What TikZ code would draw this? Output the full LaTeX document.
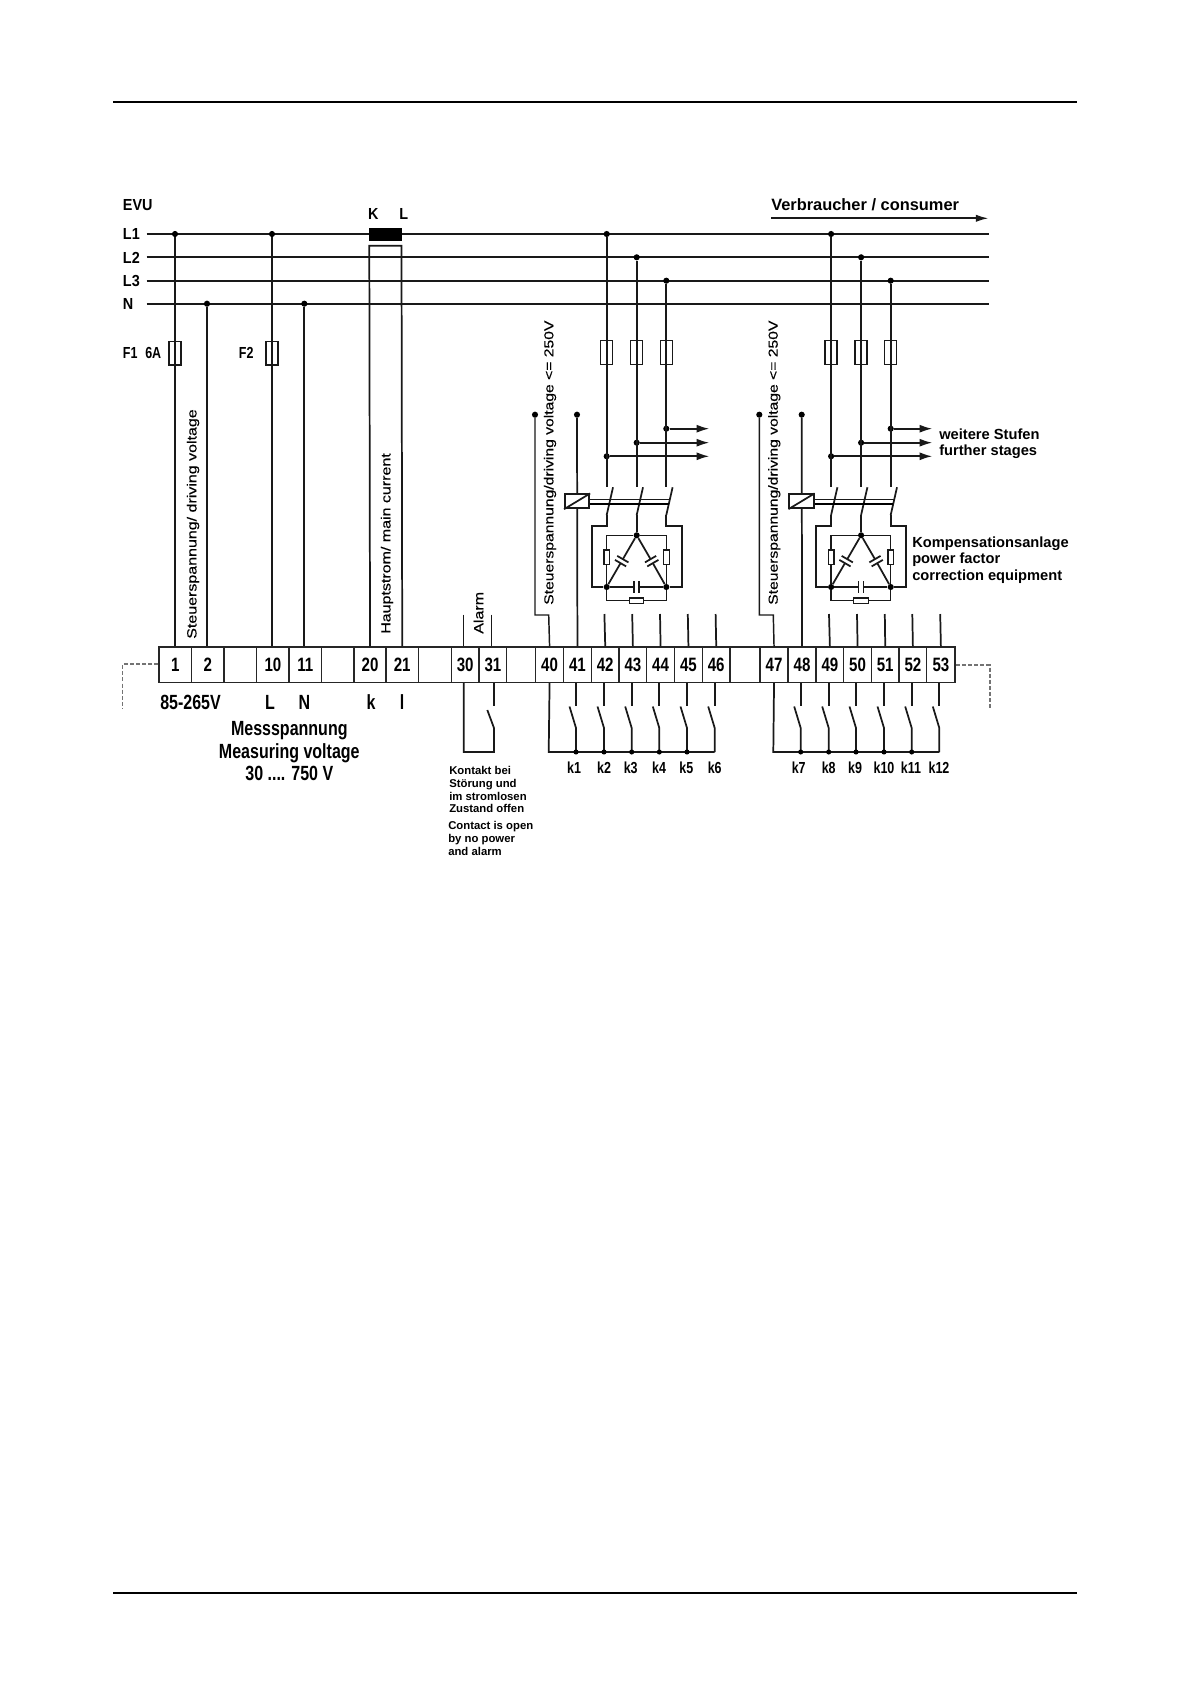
\documentclass[tikz,border=0pt]{standalone}
\usepackage{fontspec}
\setmainfont{Liberation Sans}
\newfontfamily\cfont[FakeStretch=0.78]{Liberation Sans}
\newfontfamily\mfont[FakeStretch=0.9]{Liberation Sans}
\newfontfamily\rfont[FakeStretch=1.2,FakeBold=0.3]{Liberation Sans}
\usetikzlibrary{arrows.meta}
\tikzset{
  wire/.style={line width=1.3pt,black!90},
  thin wire/.style={line width=1.1pt,black!90},
  fusebox/.style={draw=black!90,line width=1pt,fill=none,minimum width=12pt*0.75,minimum height=23.5pt*0.75,inner sep=0pt},
  term/.style={draw=black!85,line width=1.1pt,minimum height=26.4pt,inner sep=0pt,font=\cfont\bfseries\fontsize{14.5}{16}\selectfont},
  jdot/.style={circle,fill=black,inner sep=0pt,minimum size=4.6pt},
  lab/.style={inner sep=0pt,text height=8.6pt,text depth=0pt,font=\mfont\bfseries\fontsize{12}{14}\selectfont},
  flab/.style={inner sep=0pt,text height=8.6pt,text depth=0pt,anchor=west,font=\cfont\bfseries\fontsize{12}{14}\selectfont},
  klab/.style={inner sep=0pt,text height=8.6pt,text depth=0pt,font=\cfont\bfseries\fontsize{12}{13}\selectfont},
  rot/.style={inner sep=0pt,rotate=90,anchor=west,font=\rfont\fontsize{10}{13}\selectfont},
  rotb/.style={inner sep=0pt,rotate=90,anchor=west,font=\rfont\fontsize{9.8}{13}\selectfont},
  small/.style={inner sep=0pt,anchor=west,text height=6pt,text depth=0pt,font=\bfseries\fontsize{8.5}{9}\selectfont},
  side/.style={inner sep=0pt,anchor=west,text height=7.9pt,text depth=0pt,font=\bfseries\fontsize{11}{12}\selectfont},
  big/.style={inner sep=0pt,text height=11pt,text depth=0pt,font=\cfont\bfseries\fontsize{15.4}{17}\selectfont},
  dashline/.style={draw=black!55,line width=0.8pt,dash pattern=on 3pt off 1.6pt},
  go/.style={-{Latex[length=9.5pt,width=6pt]},wire}
}
\newcommand{\termcell}[3]{\node[term,minimum width=#3*0.75pt,anchor=west] (t#1) at (#2,664.7) {#1};}
\newcommand{\emptycell}[3]{\node[term,minimum width=#3*0.75pt,anchor=west] (#1) at (#2,664.7) {};}
\newcommand{\contact}[3]{%
  \coordinate (#2s) at (#3,705.7);
  \coordinate (#2k) at (#3,728);
  \coordinate (#2b) at (#3-6.5,706.5);
  \draw[wire] (t#1.south -| #2s) -- (#2s);
  \draw[wire] (#2b) -- (#2k) -- (#3,752);
}
\newcommand{\stage}[3]{%
\begin{scope}[shift={(#2,0)}]
  \node[jdot] (#1a) at (606.7,234) {};
  \node[jdot] (#1b) at (636.7,257.3) {};
  \node[jdot] (#1c) at (666.3,280.7) {};
  \node[fusebox] (#1fa) at (606.7,352.5) {};
  \node[fusebox] (#1fb) at (636.7,352.5) {};
  \node[fusebox] (#1fc) at (666.3,352.5) {};
  \node[jdot] (#1da) at (606.7,456.3) {};
  \node[jdot] (#1db) at (636.7,442.7) {};
  \node[jdot] (#1dc) at (666.3,428.7) {};
  \coordinate (#1ea) at (709.3+#3,456.3);
  \coordinate (#1eb) at (709.3+#3,442.7);
  \coordinate (#1ec) at (709.3+#3,428.7);
  \draw[go] (#1da) -- (#1ea);
  \draw[go] (#1db) -- (#1eb);
  \draw[go] (#1dc) -- (#1ec);
  \coordinate (#1sa) at (606.7,486.7);
  \coordinate (#1sb) at (636.7,486.7);
  \coordinate (#1sc) at (666.3,486.7);
  \draw[wire] (#1a) -- (#1sa);
  \draw[wire] (#1b) -- (#1sb);
  \draw[wire] (#1c) -- (#1sc);
  \coordinate (#1ba) at (606.7,515);
  \coordinate (#1bb) at (636.7,515);
  \coordinate (#1bc) at (666.3,515);
  \draw[wire] (613,487.3) -- (#1ba);
  \draw[wire] (643,487.3) -- (#1bb);
  \draw[wire] (672.6,487.3) -- (#1bc);
  \node[draw=black!90,line width=1.3pt,fill=white,minimum width=24.3*0.75pt,minimum height=14*0.75pt,inner sep=0pt] (#1coil) at (577.1,501.3) {};
  \draw[wire] (#1coil.south west) -- (#1coil.north east);
  \draw[line width=1pt,black!90] (#1coil.east |- 0,499.3) -- (669.7,499.3);
  \draw[line width=1.6pt,black] (#1coil.east |- 0,503.8) -- (668.7,503.8);
  \coordinate (#1ot) at (591.7,526);
  \coordinate (#1ob) at (681.7,587);
  \node[jdot] (#1top) at (636.7,535.3) {};
  \node[jdot] (#1l) at (606.7,587) {};
  \node[jdot] (#1r) at (666.3,587) {};
  \draw[wire] (#1ba) -- (606.7,526) -- (#1ot) -- (591.7,587) -- (#1l);
  \draw[wire] (#1bc) -- (666.3,526) -- (681.7,526) -- (#1ob) -- (#1r);
  \draw[wire] (#1bb) -- (#1top);
  \draw[thin wire] (#1top) -- (606.7,535.3) -- (#1l);
  \draw[thin wire] (#1top) -- (666.3,535.3) -- (#1r);
  \draw[thin wire] (#1l) -- (606.7,600.7) -- (666.3,600.7) -- (#1r);
  \node[draw=black!90,fill=white,line width=0.9pt,minimum width=4.2pt,minimum height=11pt,inner sep=0pt] (#1ra) at (606.7,557.3) {};
  \node[draw=black!90,fill=white,line width=0.9pt,minimum width=4.2pt,minimum height=11pt,inner sep=0pt] (#1rc) at (666.3,557.3) {};
  \node[draw=black!90,fill=white,line width=0.9pt,minimum width=11pt,minimum height=4.2pt,inner sep=0pt] (#1rb) at (636.5,600.7) {};
  \draw[wire] (#1l) -- (634.2,587);
  \draw[wire] (#1r) -- (639.2,587);
  \draw[wire] (634.2,581.3) -- (634.2,593);
  \draw[wire] (639.2,581.3) -- (639.2,593);
  \draw[wire] (#1top) -- (622.85,559.15);
  \draw[wire] (#1l) -- (620.55,563.15);
  \draw[wire] ({622.85-5.6},{559.15-3.25}) -- ({622.85+5.6},{559.15+3.25});
  \draw[wire] ({620.55-5.6},{563.15-3.25}) -- ({620.55+5.6},{563.15+3.25});
  \draw[wire] (#1top) -- (650.55,559.15);
  \draw[wire] (#1r) -- (652.85,563.15);
  \draw[wire] ({650.55-5.6},{559.15+3.25}) -- ({650.55+5.6},{559.15-3.25});
  \draw[wire] ({652.85-5.6},{563.15+3.25}) -- ({652.85+5.6},{563.15-3.25});
\end{scope}}
\begin{document}
\begin{tikzpicture}[x=0.75pt,y=-0.75pt]
\useasboundingbox (0,0) rectangle (1190,1684);
\fill[white] (0,0) rectangle (1190,1684);
\coordinate (ra) at (113,102); \coordinate (rb) at (1077,102);
\coordinate (rc) at (113,1593); \coordinate (rd) at (1077,1593);
\draw[line width=1.3pt] (ra) -- (rb);
\draw[line width=1.3pt] (rc) -- (rd);
\node[lab,anchor=west] (evu) at (122.7,205) {EVU};
\node[lab,anchor=west] (nL1) at (122.7,234) {L1};
\node[lab,anchor=west] (nL2) at (122.7,257.3) {L2};
\node[lab,anchor=west] (nL3) at (122.7,280.7) {L3};
\node[lab,anchor=west] (nN) at (122.7,303.7) {N};
\coordinate (a1) at (146.7,234); \coordinate (b1) at (989,234);
\coordinate (a2) at (146.7,257.3); \coordinate (b2) at (989,257.3);
\coordinate (a3) at (146.7,280.7); \coordinate (b3) at (989,280.7);
\coordinate (a4) at (146.7,303.7); \coordinate (b4) at (989,303.7);
\draw[wire] (a1) -- (b1);
\draw[wire] (a2) -- (b2);
\draw[wire] (a3) -- (b3);
\draw[wire] (a4) -- (b4);
\coordinate (ca) at (771,218.3); \coordinate (cb) at (988.5,218.3);
\draw[-{Latex[length=9.5pt,width=5.5pt]},wire] (ca) -- (cb);
\node[inner sep=0pt,anchor=west,text height=8.8pt,text depth=0pt,font=\bfseries\fontsize{12.3}{14}\selectfont] (verb) at (771,205) {Verbraucher / consumer};
\termcell{1}{158.3}{32.7}
\termcell{2}{191}{32.3}
\emptycell{e1}{223.3}{32.7}
\termcell{10}{256}{32.3}
\termcell{11}{288.3}{32.4}
\emptycell{e2}{320.7}{32.6}
\termcell{20}{353.3}{32}
\termcell{21}{385.3}{32.4}
\emptycell{e3}{417.7}{33}
\termcell{30}{450.7}{27.6}
\termcell{31}{478.3}{27.7}
\emptycell{e4}{506}{29}
\termcell{40}{535}{27.7}
\termcell{41}{562.7}{28}
\termcell{42}{590.7}{27.6}
\termcell{43}{618.3}{27.7}
\termcell{44}{646}{27.7}
\termcell{45}{673.7}{28}
\termcell{46}{701.7}{27.6}
\emptycell{e5}{729.3}{30}
\termcell{47}{759.3}{28}
\termcell{48}{787.3}{28}
\termcell{49}{815.3}{27.7}
\termcell{50}{843}{27.7}
\termcell{51}{870.7}{27.6}
\termcell{52}{898.3}{27.7}
\termcell{53}{926}{28.3}
\node[jdot] (j1) at (175,234) {};
\node[jdot] (j2) at (272,234) {};
\node[jdot] (j3) at (207,303.7) {};
\node[jdot] (j4) at (304.3,303.7) {};
\draw[wire] (j1) -- (j1 |- t1.north);
\draw[wire] (j2) -- (j2 |- t10.north);
\draw[wire] (j3) -- (j3 |- t2.north);
\draw[wire] (j4) -- (j4 |- t11.north);
\node[fusebox] (f1) at (175,353.3) {};
\node[fusebox] (f2) at (272,353.3) {};
\node[flab] (lf1) at (122.7,353) {F1};
\node[flab] (l6a) at (145,353) {6A};
\node[flab] (lf2) at (238.7,353) {F2};
\node[fill=black,minimum width=24.7pt,minimum height=9.5pt,inner sep=0pt] (ct) at (385.3,234.3) {};
\node[lab] (lK) at (373.3,214) {K};
\node[lab] (lLL) at (403.7,214) {L};
\coordinate (cta) at (369.3,245.7);
\coordinate (ctb) at (401.5,245.7);
\draw[wire] (t20.north) -- (cta) -- (ctb) -- (t21.north);
\node[rot] (r1) at (193,639) {Steuerspannung/ driving voltage};
\node[rot] (r2) at (387,634) {Hauptstrom/ main current};
\node[rotb] (r3) at (550,605) {Steuerspannung/driving voltage <= 250V};
\node[rotb] (r4) at (774.3,605) {Steuerspannung/driving voltage <= 250V};
\node[rot] (r5) at (478.5,634) {Alarm};
\coordinate (al1) at (463.7,614.7); \coordinate (al2) at (491.3,614.7);
\draw[thin wire] (al1) -- (t30.north -| al1);
\draw[thin wire] (al2) -- (t31.north -| al2);
\coordinate (al3) at (463.7,752); \coordinate (al4) at (494,752);
\coordinate (al5) at (494,728); \coordinate (al6) at (487.3,710);
\coordinate (al7) at (494,705.7);
\draw[wire] (t30.south -| al3) -- (al3) -- (al4) -- (al5) -- (al6);
\draw[wire] (t31.south -| al7) -- (al7);
\node[jdot] (d40) at (535,414.7) {};
\node[jdot] (d41) at (577,414.7) {};
\node[jdot] (d47) at (759.3,414.7) {};
\node[jdot] (d48) at (801.7,414.7) {};
\draw[thin wire] (d40) -- (535,615) -- (548.7,615) -- (t40.north);
\draw[thin wire] (d47) -- (759.3,615) -- (773.3,615) -- (t47.north);
\draw[wire] (d41) -- (t41.north);
\draw[wire] (d48) -- (t48.north);
\foreach \n/\x in {42/604.4,43/632.2,44/660,45/687.8,46/715.6,49/829,50/857,51/884.8,52/912.3,53/940.2}{
  \coordinate (s\n) at (\x,614);
  \draw[wire] (s\n) -- (t\n.north);
}
\stage{p}{0}{0}
\stage{q}{224.4}{-1.4}
\contact{41}{ca}{576}
\contact{42}{cb}{604}
\contact{43}{cc}{631.7}
\contact{44}{cd}{659.3}
\contact{45}{ce}{687}
\contact{46}{cf}{714.7}
\contact{48}{cg}{800.7}
\contact{49}{ch}{828.7}
\contact{50}{ci}{856}
\contact{51}{cj}{884}
\contact{52}{ck}{911.7}
\contact{53}{cl}{939.3}
\coordinate (bus1) at (548.7,752); \coordinate (bus1e) at (714.7,752);
\coordinate (bus2) at (773.3,752); \coordinate (bus2e) at (939.3,752);
\draw[wire] (t40.south) -- (bus1) -- (bus1e);
\draw[wire] (t47.south) -- (bus2) -- (bus2e);
\foreach \x/\n in {576/u1,604/u2,631.7/u3,659.3/u4,687/u5,800.7/u7,828.7/u8,856/u9,884/u10,911.7/u11}{
  \node[jdot,minimum size=3.8pt] (\n) at (\x,752) {};
}
\foreach \t/\x in {k1/574,k2/604,k3/630.7,k4/659,k5/686.3,k6/714.7,k7/798.7,k8/828.7,k9/855,k10/884,k11/911,k12/939}{
  \node[klab] (l\t) at (\x,768) {\t};
}
\coordinate (da) at (122.7,664); \coordinate (db) at (122.7,709);
\coordinate (dc) at (990,665); \coordinate (dd) at (990,709);
\draw[dashline] (t1.west |- da) -- (da) -- (db);
\draw[dashline] (t53.east |- dc) -- (dc) -- (dd);
\node[big,anchor=west] (v1) at (160,702) {85-265V};
\node[big] (v2) at (270,702) {L};
\node[big] (v3) at (304.3,702) {N};
\node[big] (v4) at (371,702) {k};
\node[big] (v5) at (402,702) {l};
\node[big] (m1) at (289.3,728) {Messspannung};
\node[big] (m2) at (289.3,750.7) {Measuring voltage};
\node[big] (m3) at (289.3,773.3) {30 .... 750 V};
\node[small] (n1) at (449,770) {Kontakt bei};
\node[small] (n2) at (449,783) {Störung und};
\node[small] (n3) at (449,796) {im stromlosen};
\node[small] (n4) at (449,808.7) {Zustand offen};
\node[small] (n5) at (448,825) {Contact is open};
\node[small] (n6) at (448,838) {by no power};
\node[small] (n7) at (448,851) {and alarm};
\node[side] (w1) at (939,434.3) {weitere Stufen};
\node[side] (w2) at (939,450.7) {further stages};
\node[side] (c1) at (912,542) {Kompensationsanlage};
\node[side] (c2) at (912,558.7) {power factor};
\node[side] (c3) at (912,575) {correction equipment};
\end{tikzpicture}
\end{document}
